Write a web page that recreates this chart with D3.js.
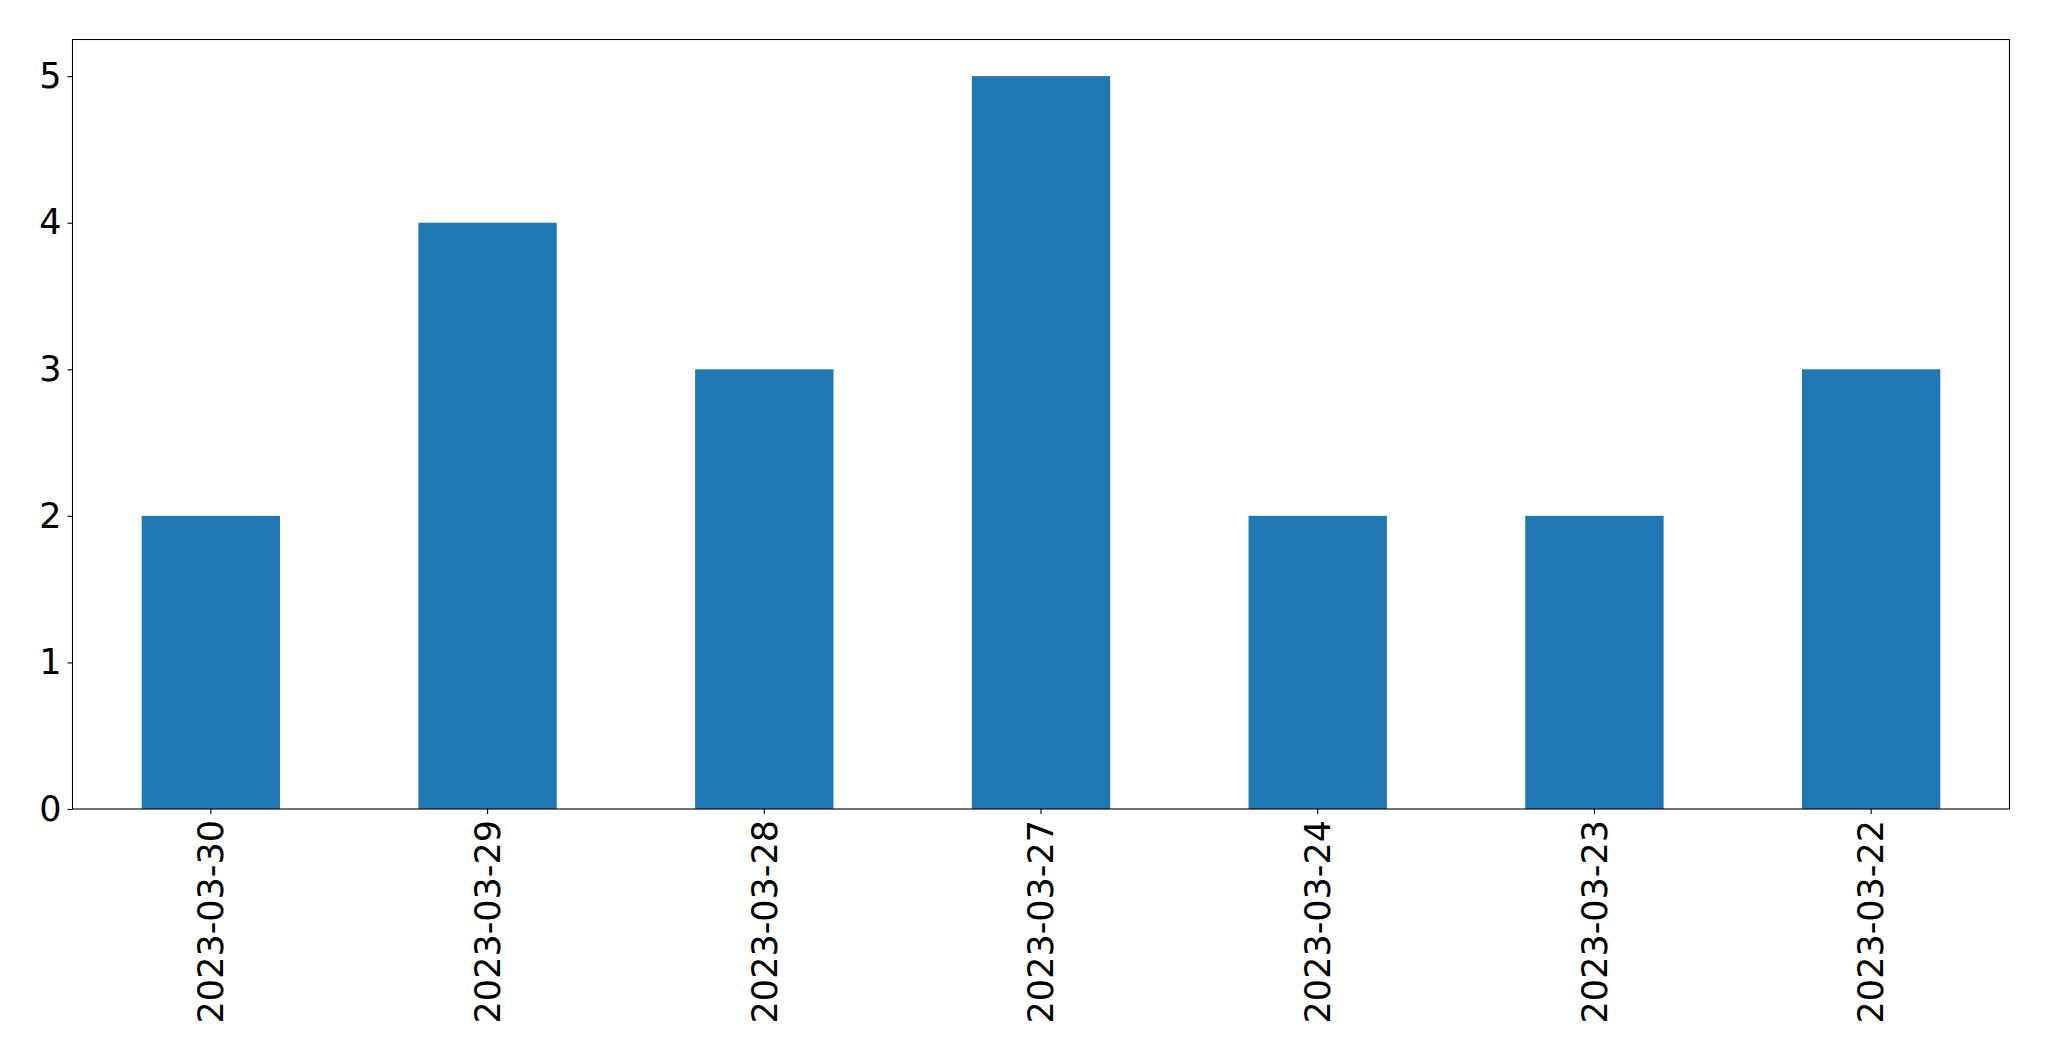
<!DOCTYPE html>
<html>
<head>
<meta charset="utf-8">
<script src="https://cdn.jsdelivr.net/npm/d3@7"></script>
<style>
  body { margin: 0; background: #fff; }
  text { font-family: "DejaVu Sans", sans-serif; }
</style>
</head>
<body>
<svg id="chart" width="2049" height="1061"></svg>
<script>
const dates = ["2023-03-30", "2023-03-29", "2023-03-28", "2023-03-27", "2023-03-24", "2023-03-23", "2023-03-22"];
const counts = [2, 4, 3, 5, 2, 2, 3];
const yTicks = [0, 1, 2, 3, 4, 5];

const BAR_COLOR = "#1f77b4";
const FONT_SIZE = 35;

let svg = d3.select("#chart");
let margin = {left: 72.5, right: 2049 - 2009.5, top: 39.5, bottom: 1061 - 809};
let width = 2049 - margin.left - margin.right,
    height = 1061 - margin.top - margin.bottom;

let g = svg.append("g")
  .attr("transform", "translate(" + margin.left + "," + margin.top + ")");

let x = d3.scaleBand()
  .domain(dates)
  .range([0, width])
  .paddingInner(0.5)
  .paddingOuter(0.25);

let y = d3.scaleLinear()
  .domain([0, d3.max(counts) * 1.05])
  .range([height, 0]);

// bars
g.append("g")
  .selectAll("rect")
  .data(dates)
  .enter().append("rect")
  .attr("x", d => x(d))
  .attr("width", x.bandwidth())
  .attr("y", (d, i) => y(counts[i]))
  .attr("height", (d, i) => height - y(counts[i]))
  .attr("fill", BAR_COLOR);

// y axis
let yAxis = g.append("g")
  .call(d3.axisLeft(y).tickValues(yTicks).tickFormat(d3.format("d")).tickSize(5).tickPadding(6));

// x axis
let xAxis = g.append("g")
  .attr("transform", "translate(0," + height + ")")
  .call(d3.axisBottom(x).tickSize(5).tickPadding(5));

xAxis.selectAll("text")
  .attr("transform", "rotate(-90)")
  .attr("x", -11)
  .attr("y", 0)
  .attr("dy", "0.35em")
  .style("text-anchor", "end");

[xAxis, yAxis].forEach(a => {
  a.select(".domain").remove();
  a.selectAll("text").style("font-size", FONT_SIZE + "px").attr("fill", "#000");
  a.selectAll("line").attr("stroke", "#000").attr("stroke-width", 1.1);
});

// frame
g.append("rect")
  .attr("width", width)
  .attr("height", height)
  .attr("fill", "none")
  .attr("stroke", "#000")
  .attr("stroke-width", 1.1);
</script>
</body>
</html>
